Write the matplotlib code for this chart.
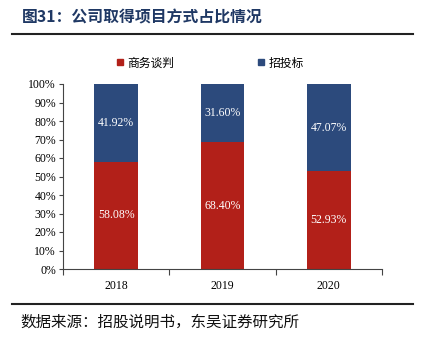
import matplotlib
matplotlib.use("Agg")
import matplotlib.pyplot as plt
from matplotlib.lines import Line2D

years = ["2018", "2019", "2020"]
negotiation = [58.08, 68.40, 52.93]
bidding = [41.92, 31.60, 47.07]
series_names = ["商务谈判", "招投标"]
yticks = [0, 10, 20, 30, 40, 50, 60, 70, 80, 90, 100]

red = "#B22019"
blue = "#2C4A7C"
cjk = ["Noto Sans CJK SC", "DejaVu Sans"]
serif = ["Liberation Serif", "DejaVu Serif"]

fig = plt.figure(figsize=(4.27, 3.40), dpi=100)
ax = fig.add_axes([63/427, 1-269/340, (382-63)/427, (269-84)/340])

x = list(range(len(years)))
w = 0.41
ax.bar(x, negotiation, width=w, color=red, zorder=2)
ax.bar(x, bidding, width=w, bottom=negotiation, color=blue, zorder=2)

for i in x:
    ax.text(i, negotiation[i]/2, f"{negotiation[i]:.2f}%", ha="center", va="center",
            color="white", fontsize=8.5, family=serif)
    ax.text(i, negotiation[i] + bidding[i]/2, f"{bidding[i]:.2f}%", ha="center", va="center",
            color="white", fontsize=8.5, family=serif)

ax.set_xlim(-0.5, 2.5)
ax.set_ylim(0, 100)
ax.set_yticks(yticks)
ax.set_yticklabels([f"{t}%" for t in yticks], family=serif, fontsize=8.5)
ax.set_xticks([-0.5, 0.5, 1.5, 2.5])
ax.set_xticklabels([])
ax.set_xticks(x, minor=True)
ax.set_xticklabels(years, minor=True, family=serif, fontsize=8.5)
ax.tick_params(axis="x", which="minor", length=0, pad=8)
ax.tick_params(axis="x", which="major", length=4, direction="out", color="#444444")
ax.tick_params(axis="y", length=3, direction="out", color="#444444", pad=2)
for s in ["top", "right"]:
    ax.spines[s].set_visible(False)
for s in ["left", "bottom"]:
    ax.spines[s].set_color("#444444")
    ax.spines[s].set_linewidth(0.8)

handles = [Line2D([], [], marker="s", linestyle="", color=red, markersize=5),
           Line2D([], [], marker="s", linestyle="", color=blue, markersize=5)]
fig.legend(handles, series_names, loc="center", bbox_to_anchor=(0.49, 1-63/340), ncol=2,
           frameon=False, prop={"family": cjk, "size": 8.5}, handletextpad=0.2,
           columnspacing=7, handlelength=0.8)

fig.text(22/427, 1-17/340, "图31：公司取得项目方式占比情况", family=cjk, fontsize=11.4,
         fontweight="bold", color="#1F3864", va="center", ha="left")
fig.add_artist(Line2D([12/427, 413/427], [1-34/340, 1-34/340], color="#222222", lw=1.5,
                      transform=fig.transFigure))
fig.add_artist(Line2D([12/427, 413/427], [1-304/340, 1-304/340], color="#222222", lw=1.5,
                      transform=fig.transFigure))
fig.text(20/427, 1-322/340, "数据来源：招股说明书，东吴证券研究所", family=cjk, fontsize=11.2,
         color="#111111", va="center", ha="left")

fig.savefig("out.png", dpi=100)
